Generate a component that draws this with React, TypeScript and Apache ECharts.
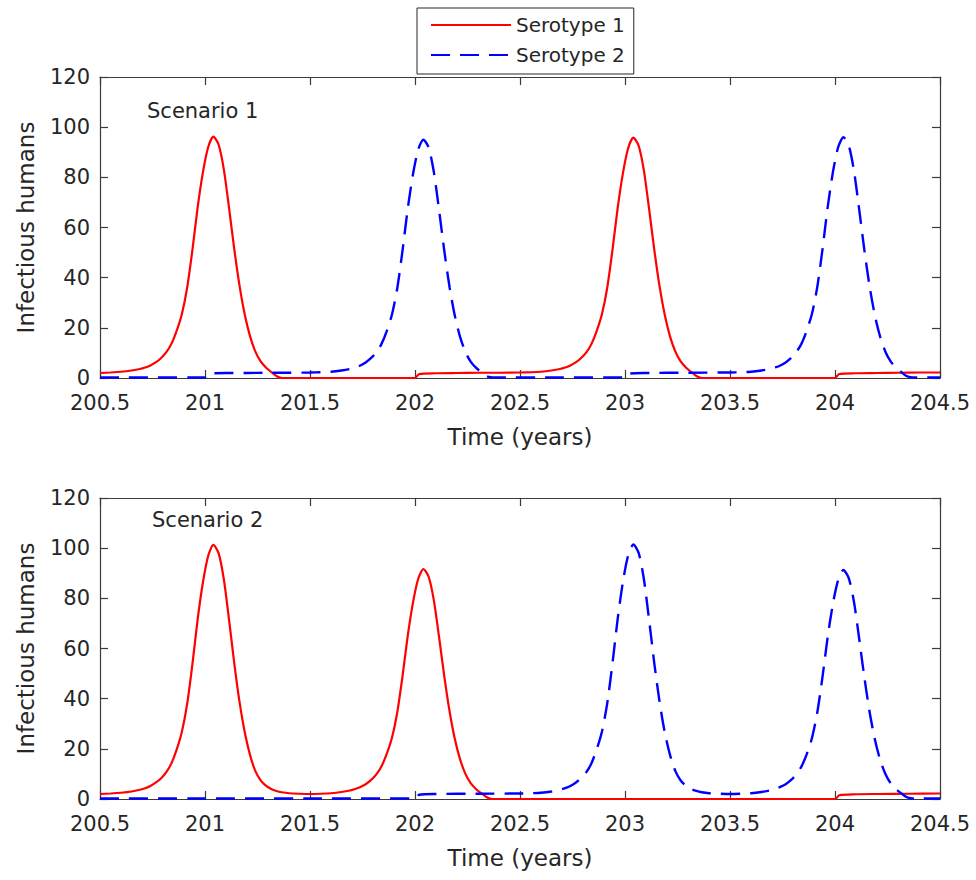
import React, { useEffect, useRef } from "react";
import * as echarts from "echarts";

// ---- Data ----
const legendNames = ["Serotype 1", "Serotype 2"];
const panelTitles = ["Scenario 1", "Scenario 2"];
const xTitle = "Time (years)";
const yTitle = "Infectious humans";

// Scenario 1, serotype 1 (red, solid): [time, infectious humans]
const sc1Sero1: [number, number][] = [
  [200.5, 2.0], [200.55, 2.2], [200.6, 2.5], [200.65, 3.0], [200.69, 3.6], [200.715, 4.2],
  [200.74, 5.0], [200.765, 6.2], [200.79, 7.9], [200.815, 10.2], [200.84, 13.6], [200.865, 18.8],
  [200.89, 25.5], [200.915, 36], [200.94, 51], [200.965, 68], [200.99, 82], [201.015, 92],
  [201.04, 96.2], [201.065, 93], [201.09, 83], [201.115, 67.5], [201.14, 51], [201.165, 36.5],
  [201.19, 25], [201.215, 16.5], [201.24, 10.5], [201.265, 6.6], [201.29, 4.2], [201.315, 2.4],
  [201.34, 0.8], [201.36, 0.1], [201.38, 0], [201.7, 0], [202.0, 0], [202.02, 1.6],
  [202.1, 1.9], [202.2, 2.0], [202.3, 2.1], [202.4, 2.1], [202.5, 2.2], [202.55, 2.3],
  [202.6, 2.5], [202.65, 3.0], [202.69, 3.6], [202.715, 4.2], [202.74, 5.0], [202.765, 6.2],
  [202.79, 7.9], [202.815, 10.1], [202.84, 13.5], [202.865, 18.7], [202.89, 25.4], [202.915, 35.8],
  [202.94, 50.8], [202.965, 67.7], [202.99, 81.6], [203.015, 91.6], [203.04, 95.8], [203.065, 92.6],
  [203.09, 82.7], [203.115, 67.2], [203.14, 50.8], [203.165, 36.3], [203.19, 24.9], [203.215, 16.4],
  [203.24, 10.5], [203.265, 6.6], [203.29, 4.2], [203.315, 2.4], [203.34, 0.8], [203.36, 0.1],
  [203.38, 0], [203.7, 0], [204.0, 0], [204.02, 1.6], [204.1, 1.9], [204.2, 2.0],
  [204.3, 2.1], [204.4, 2.2], [204.5, 2.2],
];

// Scenario 1, serotype 2 (blue, dashed)
const sc1Sero2: [number, number][] = [
  [200.5, 0.2], [201.0, 0.2], [201.02, 1.7], [201.1, 2.0], [201.2, 2.0], [201.3, 2.1],
  [201.4, 2.1], [201.5, 2.2], [201.55, 2.3], [201.6, 2.5], [201.65, 3.0], [201.69, 3.6],
  [201.715, 4.2], [201.74, 5.0], [201.765, 6.2], [201.79, 7.9], [201.815, 10.1], [201.84, 13.5],
  [201.865, 18.6], [201.89, 25.2], [201.915, 35.5], [201.94, 50.4], [201.965, 67.2], [201.99, 81],
  [202.015, 91], [202.04, 95], [202.065, 91.9], [202.09, 82], [202.115, 66.7], [202.14, 50.4],
  [202.165, 36], [202.19, 24.7], [202.215, 16.3], [202.24, 10.4], [202.265, 6.5], [202.29, 4.1],
  [202.315, 2.4], [202.34, 0.8], [202.36, 0.3], [202.38, 0.2], [202.7, 0.2], [203.0, 0.2],
  [203.02, 1.7], [203.1, 2.0], [203.3, 2.1], [203.5, 2.2], [203.55, 2.3], [203.6, 2.5],
  [203.65, 3.0], [203.69, 3.6], [203.715, 4.2], [203.74, 5.0], [203.765, 6.2], [203.79, 7.9],
  [203.815, 10.2], [203.84, 13.6], [203.865, 18.8], [203.89, 25.5], [203.915, 36], [203.94, 51],
  [203.965, 68], [203.99, 82], [204.015, 92], [204.04, 96], [204.065, 92.8], [204.09, 82.8],
  [204.115, 67.3], [204.14, 50.9], [204.165, 36.4], [204.19, 24.9], [204.215, 16.5], [204.24, 10.5],
  [204.265, 6.6], [204.29, 4.2], [204.315, 2.4], [204.34, 0.8], [204.36, 0.3], [204.38, 0.2],
  [204.5, 0.2],
];

// Scenario 2, serotype 1 (red, solid)
const sc2Sero1: [number, number][] = [
  [200.5, 2.0], [200.55, 2.2], [200.6, 2.5], [200.65, 3.0], [200.69, 3.7], [200.715, 4.3],
  [200.74, 5.2], [200.765, 6.5], [200.79, 8.2], [200.815, 10.6], [200.84, 14.2], [200.865, 19.7],
  [200.89, 26.8], [200.915, 37.9], [200.94, 53.7], [200.965, 71.6], [200.99, 86.3], [201.015, 96.9],
  [201.04, 101.3], [201.065, 97.9], [201.09, 87.4], [201.115, 71.1], [201.14, 53.7], [201.165, 38.4],
  [201.19, 26.3], [201.215, 17.4], [201.24, 11.1], [201.265, 7.4], [201.29, 5.3], [201.315, 4.0],
  [201.34, 3.2], [201.365, 2.7], [201.4, 2.3], [201.45, 2.1], [201.5, 2.0], [201.55, 2.1],
  [201.6, 2.3], [201.65, 2.8], [201.69, 3.4], [201.715, 4.0], [201.74, 4.8], [201.765, 5.9],
  [201.79, 7.5], [201.815, 9.7], [201.84, 13.0], [201.865, 17.9], [201.89, 24.3], [201.915, 34.3],
  [201.94, 48.6], [201.965, 64.8], [201.99, 78.1], [202.015, 87.7], [202.04, 91.7], [202.065, 88.6],
  [202.09, 79.1], [202.115, 64.3], [202.14, 48.6], [202.165, 34.8], [202.19, 23.8], [202.215, 15.7],
  [202.24, 10.0], [202.265, 6.3], [202.29, 4.0], [202.315, 2.3], [202.34, 0.8], [202.36, 0.1],
  [202.38, 0], [203.0, 0], [203.5, 0], [204.0, 0], [204.02, 1.5], [204.1, 1.9],
  [204.2, 2.0], [204.35, 2.1], [204.5, 2.2],
];

// Scenario 2, serotype 2 (blue, dashed)
const sc2Sero2: [number, number][] = [
  [200.5, 0.2], [201.0, 0.2], [201.5, 0.2], [202.0, 0.2], [202.02, 1.7], [202.1, 2.0],
  [202.3, 2.1], [202.5, 2.2], [202.55, 2.3], [202.6, 2.5], [202.65, 3.0], [202.69, 3.7],
  [202.715, 4.3], [202.74, 5.2], [202.765, 6.5], [202.79, 8.2], [202.815, 10.6], [202.84, 14.2],
  [202.865, 19.7], [202.89, 26.8], [202.915, 37.9], [202.94, 53.8], [202.965, 71.7], [202.99, 86.5],
  [203.015, 97.1], [203.04, 101.5], [203.065, 98.1], [203.09, 87.6], [203.115, 71.2], [203.14, 53.8],
  [203.165, 38.5], [203.19, 26.3], [203.215, 17.4], [203.24, 11.1], [203.265, 7.4], [203.29, 5.3],
  [203.315, 4.0], [203.34, 3.2], [203.365, 2.7], [203.4, 2.3], [203.45, 2.1], [203.5, 2.0],
  [203.55, 2.1], [203.6, 2.3], [203.65, 2.8], [203.69, 3.4], [203.715, 4.0], [203.74, 4.8],
  [203.765, 5.9], [203.79, 7.5], [203.815, 9.7], [203.84, 12.9], [203.865, 17.8], [203.89, 24.2],
  [203.915, 34.2], [203.94, 48.4], [203.965, 64.5], [203.99, 77.8], [204.015, 87.3], [204.04, 91.3],
  [204.065, 88.2], [204.09, 78.8], [204.115, 64], [204.14, 48.4], [204.165, 34.6], [204.19, 23.7],
  [204.215, 15.6], [204.24, 10.0], [204.265, 6.3], [204.29, 4.0], [204.315, 2.3], [204.34, 0.8],
  [204.36, 0.3], [204.38, 0.2], [204.5, 0.2],
];

const X_MIN = 200.5;
const X_MAX = 204.5;
const X_STEP = 0.5;
const Y_MIN = 0;
const Y_MAX = 120;
const Y_STEP = 20;

const FONT = "DejaVu Sans";
const INK = "#262626";
const AXIS = "#3a3a3a";
const RED = "#ff0000";
const BLUE = "#0000ff";

function App() {
  const ref = useRef<HTMLDivElement>(null);

  useEffect(() => {
    if (!ref.current) return;
    const chart = echarts.init(ref.current, undefined, { renderer: "svg" });

    const grids = [
      { left: 100, top: 77, width: 840, height: 301 },
      { left: 100, top: 498, width: 840, height: 301 },
    ];

    const xAxes: any[] = [];
    const yAxes: any[] = [];
    grids.forEach((_, gi) => {
      const baseX = {
        type: "value",
        gridIndex: gi,
        min: X_MIN,
        max: X_MAX,
        interval: X_STEP,
        splitLine: { show: false },
        axisLine: { show: true, onZero: false, lineStyle: { color: AXIS, width: 1.2 } },
        axisTick: { show: true, inside: true, length: 8, lineStyle: { color: AXIS, width: 1.2 } },
      };
      xAxes.push({
        ...baseX,
        position: "bottom",
        name: xTitle,
        nameLocation: "middle",
        nameGap: 47,
        nameTextStyle: { fontFamily: FONT, fontSize: 23, color: INK },
        axisLabel: { show: true, margin: 14, fontFamily: FONT, fontSize: 21, color: INK },
      });
      xAxes.push({ ...baseX, position: "top", axisLabel: { show: false } });

      const baseY = {
        type: "value",
        gridIndex: gi,
        min: Y_MIN,
        max: Y_MAX,
        interval: Y_STEP,
        splitLine: { show: false },
        axisLine: { show: true, onZero: false, lineStyle: { color: AXIS, width: 1.2 } },
        axisTick: { show: true, inside: true, length: 8, lineStyle: { color: AXIS, width: 1.2 } },
      };
      yAxes.push({
        ...baseY,
        position: "left",
        name: yTitle,
        nameLocation: "middle",
        nameGap: 63,
        nameTextStyle: { fontFamily: FONT, fontSize: 23, color: INK },
        axisLabel: { show: true, margin: 10, fontFamily: FONT, fontSize: 21, color: INK },
      });
      yAxes.push({ ...baseY, position: "right", axisLabel: { show: false } });
    });

    const mkSeries = (name: string, data: [number, number][], gi: number, dashed: boolean) => ({
      type: "line",
      name,
      xAxisIndex: gi * 2,
      yAxisIndex: gi * 2,
      data,
      symbol: "none",
      smooth: 0.25,
      clip: true,
      lineStyle: dashed
        ? { color: BLUE, width: 2.4, type: [19, 10] }
        : { color: RED, width: 2.2 },
      itemStyle: { color: dashed ? BLUE : RED },
      emphasis: { disabled: true },
    });

    chart.setOption({
      animation: false,
      backgroundColor: "#ffffff",
      grid: grids,
      xAxis: xAxes,
      yAxis: yAxes,
      legend: {
        orient: "vertical",
        left: 417,
        top: 8,
        padding: [7, 9, 9, 13],
        itemWidth: 80,
        itemHeight: 20,
        itemGap: 10,
        borderColor: INK,
        borderWidth: 1,
        backgroundColor: "#ffffff",
        itemStyle: { opacity: 0 },
        data: legendNames,
        textStyle: { fontFamily: FONT, fontSize: 20, color: INK },
      },
      graphic: [
        {
          type: "text",
          left: 147,
          top: 100,
          style: { text: panelTitles[0], font: `21px "${FONT}"`, fill: INK },
        },
        {
          type: "text",
          left: 152,
          top: 509,
          style: { text: panelTitles[1], font: `21px "${FONT}"`, fill: INK },
        },
      ],
      series: [
        mkSeries(legendNames[0], sc1Sero1, 0, false),
        mkSeries(legendNames[1], sc1Sero2, 0, true),
        mkSeries(legendNames[0], sc2Sero1, 1, false),
        mkSeries(legendNames[1], sc2Sero2, 1, true),
      ],
    });

    return () => chart.dispose();
  }, []);

  return (
    <div
      ref={ref}
      style={{ position: "absolute", left: 0, top: 0, width: 976, height: 880, background: "#fff" }}
    />
  );
}

export default App;
